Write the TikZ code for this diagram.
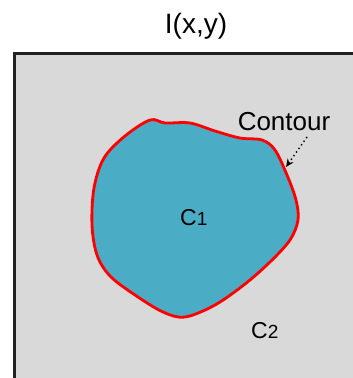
\documentclass[tikz,border=0pt]{standalone}
\usepackage{fontspec}
\setmainfont{Liberation Sans}
\usetikzlibrary{arrows.meta}
\definecolor{bggray}{HTML}{D9D9D9}
\definecolor{regionblue}{HTML}{4BACC6}
\definecolor{framecol}{HTML}{222222}
\tikzset{
  lbl/.style={inner sep=0pt, anchor=base west},
  bigtxt/.style={font=\fontsize{28}{28}\selectfont},
  midtxt/.style={font=\fontsize{26}{26}\selectfont},
  regtxt/.style={font=\fontsize{23}{23}\selectfont},
  pointer/.style={line width=1.4pt, dash pattern=on 1.4pt off 3pt, -{Stealth[length=8pt,width=7pt]}},
}
\newcommand{\regsub}[1]{{\fontsize{19}{19}\selectfont #1}}
\begin{document}
\begin{tikzpicture}[x=1pt,y=-1pt]
\useasboundingbox (0,0) rectangle (353,378);
\fill[bggray] (14,53) rectangle (353,378);
\draw[line width=3pt, framecol] (14,380) -- (14,53) -- (356,53);
\filldraw[fill=regionblue, draw=red, line width=2.8pt]
  plot[smooth cycle, tension=0.55] coordinates {
  (150,120) (165,123) (190,123) (215,131) (240,138) (262,140) (275,150)
  (287,175) (296,200) (298,220) (290,240) (270,262) (245,284) (215,305)
  (185,317) (163,312) (135,295) (110,276) (97,255) (92,225) (94,188)
  (104,158) (125,136)};
\node[lbl, bigtxt, anchor=base] (title) at (196,33) {I(x,y)};
\node[lbl, midtxt, anchor=base] (contour) at (284,130) {Contour};
\node[lbl, regtxt] (c1) at (180,225) {C\regsub{1}};
\node[lbl, regtxt] (c2) at (251,338) {C\regsub{2}};
\coordinate (ptrstart) at (307,137);
\coordinate (ptrend) at (286,167);
\draw[pointer] (ptrstart) -- (ptrend);
\end{tikzpicture}
\end{document}
